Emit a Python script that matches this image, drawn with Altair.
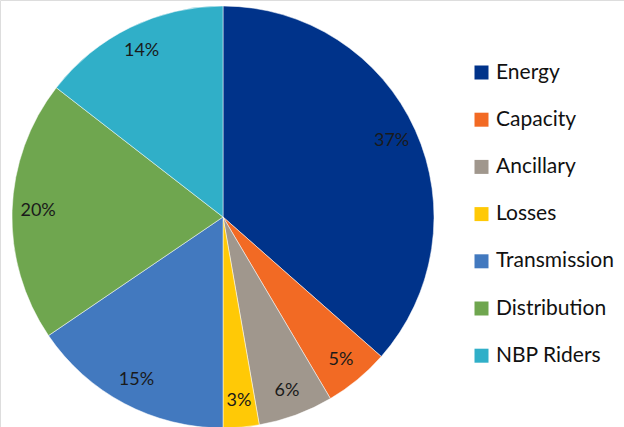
import altair as alt
import pandas as pd

categories = ["Energy", "Capacity", "Ancillary", "Losses", "Transmission", "Distribution", "NBP Riders"]
values = [36.5, 5.0, 5.75, 2.75, 15.5, 20.0, 14.5]
labels_text = ["37%", "5%", "6%", "3%", "15%", "20%", "14%"]
colors = ["#00338A", "#F26A24", "#A0978D", "#FFC906", "#4279BF", "#6FA64F", "#30AFC8"]

df = pd.DataFrame({
    "category": categories,
    "value": values,
    "order": list(range(len(categories))),
    "label": labels_text,
})

FONT = "Lato"

base = alt.Chart(df).encode(
    theta=alt.Theta("value:Q", stack=True),
    order=alt.Order("order:Q"),
    x=alt.value(223),
    y=alt.value(217),
)

arcs = base.mark_arc(outerRadius=211, stroke="white", strokeWidth=0.5).encode(
    color=alt.Color(
        "category:N",
        scale=alt.Scale(domain=categories, range=colors),
        sort=categories,
        legend=alt.Legend(
            title=None,
            orient="none",
            legendX=471,
            legendY=62,
            symbolType="square",
            symbolSize=196,
            symbolStrokeWidth=0,
            labelFontSize=21,
            labelFont=FONT,
            labelColor="#111111",
            labelOffset=4,
            rowPadding=25.2,
            padding=0,
        ),
    )
)

labels = base.mark_text(radius=185, fontSize=18, font=FONT, color="#1a1a1a").encode(
    text="label:N"
)

chart = (
    alt.layer(arcs, labels)
    .properties(width=624, height=427, padding=0, autosize=alt.AutoSizeParams(type="none"))
    .configure_view(stroke=None)
    .configure(background="white")
)

chart.save("out.html", embed_options={"renderer": "svg", "actions": False})
